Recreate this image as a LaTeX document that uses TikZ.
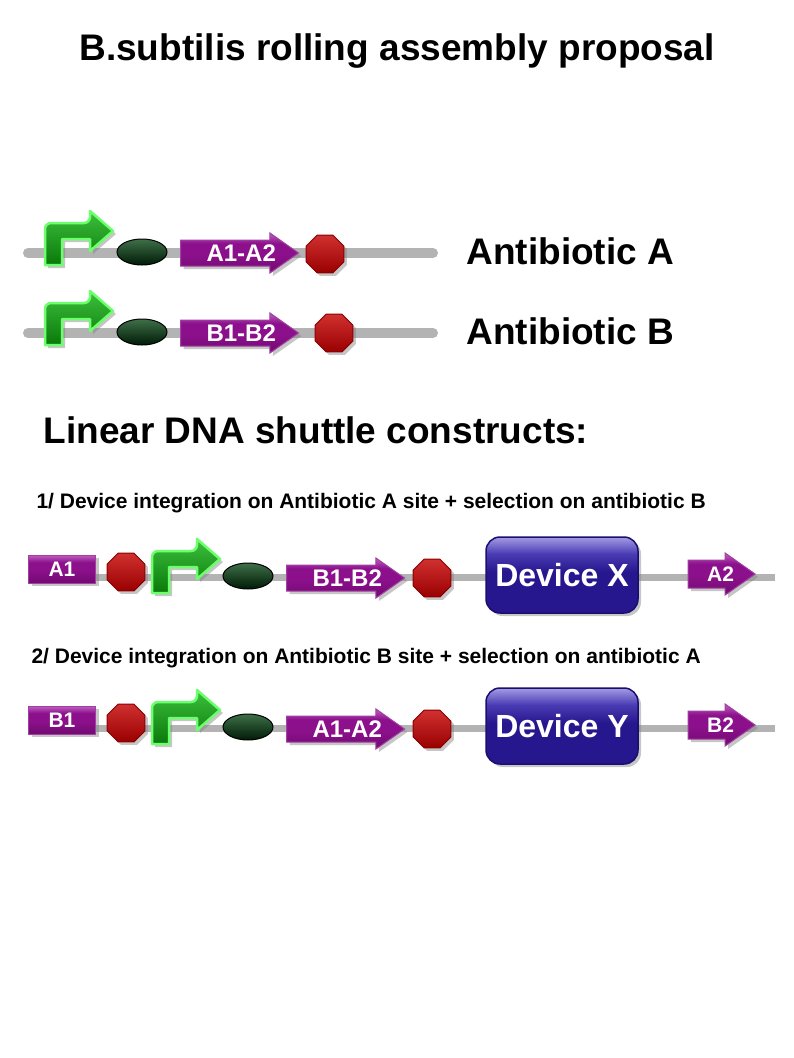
\documentclass[tikz,border=0pt]{standalone}
\usepackage{fontspec}
\setmainfont{Liberation Sans}
\usepackage{tikz}
\usetikzlibrary{shapes.geometric,shapes.arrows,shadows}

\definecolor{dnagray}{HTML}{B3B3B3}
\definecolor{promotop}{HTML}{3CC03C}
\definecolor{promobot}{HTML}{0A780A}
\definecolor{promoedge}{HTML}{6CFF6C}
\definecolor{rbstop}{HTML}{3E7048}
\definecolor{rbsbot}{HTML}{001A06}
\definecolor{cdstop}{HTML}{C060C0}
\definecolor{cdsmid}{HTML}{8C108C}
\definecolor{cdsbot}{HTML}{720A72}
\definecolor{cdsedge}{HTML}{A040A0}
\definecolor{termtop}{HTML}{D03030}
\definecolor{termbot}{HTML}{9A0000}
\definecolor{termedge}{HTML}{8C0000}
\definecolor{devtop}{HTML}{A49CE4}
\definecolor{devmid}{HTML}{4A3CB4}
\definecolor{devblue}{HTML}{26178F}
\definecolor{devedge}{HTML}{1A0E6E}

\pgfdeclareverticalshading{devshade}{100bp}{color(0bp)=(devblue); color(25bp)=(devblue); color(52bp)=(devblue); color(64bp)=(devmid); color(75bp)=(devtop); color(100bp)=(devtop)}
\pgfdeclareverticalshading{cdsshade}{100bp}{color(0bp)=(cdsbot); color(25bp)=(cdsbot); color(48bp)=(cdsmid); color(62bp)=(cdsmid); color(75bp)=(cdstop); color(100bp)=(cdstop)}

\begin{document}
\begin{tikzpicture}[x=1pt,y=-1pt,
		backbone/.style={draw=dnagray, line width=10pt, line cap=round},
		thinbackbone/.style={draw=dnagray, line width=7pt},
		shade/.style={drop shadow={shadow xshift=3pt, shadow yshift=-3pt, opacity=.45}},
		promo/.style={top color=promotop, bottom color=promobot, draw=promoedge, line width=2.5pt, line join=round, shade},
		rbs/.style={ellipse, minimum width=50pt, minimum height=26pt, inner sep=0pt, top color=rbstop, bottom color=rbsbot, draw=black, line width=1pt},
		cdstext/.style={text=white, inner sep=0pt, xshift=11pt, font=\bfseries\fontsize{24}{28}\selectfont},
		cds/.style={single arrow, anchor=tail, single arrow head extend=7pt, single arrow tip angle=70, minimum height=118pt, minimum width=39pt, inner xsep=2pt, inner ysep=4pt, text height=17pt, text depth=0pt, shading=cdsshade, draw=cdsedge, line width=1pt, shade},
		endcds/.style={cds, anchor=tip, minimum height=67pt, minimum width=42pt, text height=15pt, inner ysep=6pt},
		endtext/.style={cdstext, xshift=-2pt, font=\bfseries\fontsize{21}{25}\selectfont},
		tag/.style={rectangle, anchor=west, minimum width=67pt, minimum height=28pt, inner sep=0pt, shading=cdsshade, draw=cdsedge, line width=1pt, text=white, font=\bfseries\fontsize{21}{25}\selectfont, shade},
		term/.style={regular polygon, regular polygon sides=8, minimum size=41pt, inner sep=0pt, top color=termtop, bottom color=termbot, draw=termedge, line width=1pt, shade},
		device/.style={rectangle, rounded corners=14pt, minimum width=152pt, minimum height=76pt, shading=devshade, draw=devedge, line width=1.5pt, text=white, font=\bfseries\fontsize{32}{38}\selectfont, shade},
		heading/.style={anchor=base west, font=\bfseries\fontsize{37}{44}\selectfont},
		subheading/.style={anchor=base west, font=\bfseries\fontsize{21}{25}\selectfont},
		promoter/.pic={
			\filldraw[promo] (17,0) -- (0,0) [rounded corners=6pt] -- (0,-42) -- (45,-42) [sharp corners] -- (45,-54) -- (68,-34) -- (45,-14) -- (45,-26) -- (17,-26) -- cycle;
		}]
	\useasboundingbox (0,0) rectangle (794,1058);
	
	\node[anchor=base, font=\bfseries\fontsize{37}{44}\selectfont] (title) at (397,60) {B.subtilis rolling assembly proposal};
	
	\coordinate (bbA0) at (28,253);
	\coordinate (bbA1) at (433,253);
	\draw[backbone] (bbA0) -- (bbA1);
	\pic (proA) at (45,265) {promoter};
	\node[rbs] (rbsA) at (142,252) {};
	\node[cds, label={[cdstext]center:A1-A2}] (cdsA) at (180,253) {};
	\node[term] (termA) at (325,254) {};
	\node[heading] (labA) at (463,264) {Antibiotic A};
	
	\coordinate (bbB0) at (28,333);
	\coordinate (bbB1) at (433,333);
	\draw[backbone] (bbB0) -- (bbB1);
	\pic (proB) at (45,345) {promoter};
	\node[rbs] (rbsB) at (142,332) {};
	\node[cds, label={[cdstext]center:B1-B2}] (cdsB) at (180,333) {};
	\node[term] (termB) at (334,333) {};
	\node[heading] (labB) at (463,344) {Antibiotic B};
	
	\node[heading] (shuttle) at (40,443) {Linear DNA shuttle constructs:};
	
	\node[subheading] (oneText) at (33,508) {1/ Device integration on Antibiotic A site + selection on antibiotic B};
	\coordinate (bbX0) at (28,577);
	\coordinate (bbX1) at (775,577);
	\draw[thinbackbone] (bbX0) -- (bbX1);
	\node[tag] (tagX) at (28,569) {A1};
	\node[term] (termX0) at (126,572) {};
	\pic (proX) at (152,593) {promoter};
	\node[rbs] (rbsX) at (248,576) {};
	\node[cds, label={[cdstext]center:B1-B2}] (cdsX) at (286,578) {};
	\node[term] (termX1) at (432,578) {};
	\node[device] (devX) at (562,575) {Device X};
	\node[endcds, label={[endtext]center:A2}] (endX) at (756,574) {};
	
	\node[subheading] (twoText) at (28,663) {2/ Device integration on Antibiotic B site + selection on antibiotic A};
	\coordinate (bbY0) at (28,728);
	\coordinate (bbY1) at (775,728);
	\draw[thinbackbone] (bbY0) -- (bbY1);
	\node[tag] (tagY) at (28,720) {B1};
	\node[term] (termY0) at (126,723) {};
	\pic (proY) at (152,744) {promoter};
	\node[rbs] (rbsY) at (248,727) {};
	\node[cds, label={[cdstext]center:A1-A2}] (cdsY) at (286,729) {};
	\node[term] (termY1) at (432,729) {};
	\node[device] (devY) at (562,726) {Device Y};
	\node[endcds, label={[endtext]center:B2}] (endY) at (756,725) {};
\end{tikzpicture}
\end{document}
